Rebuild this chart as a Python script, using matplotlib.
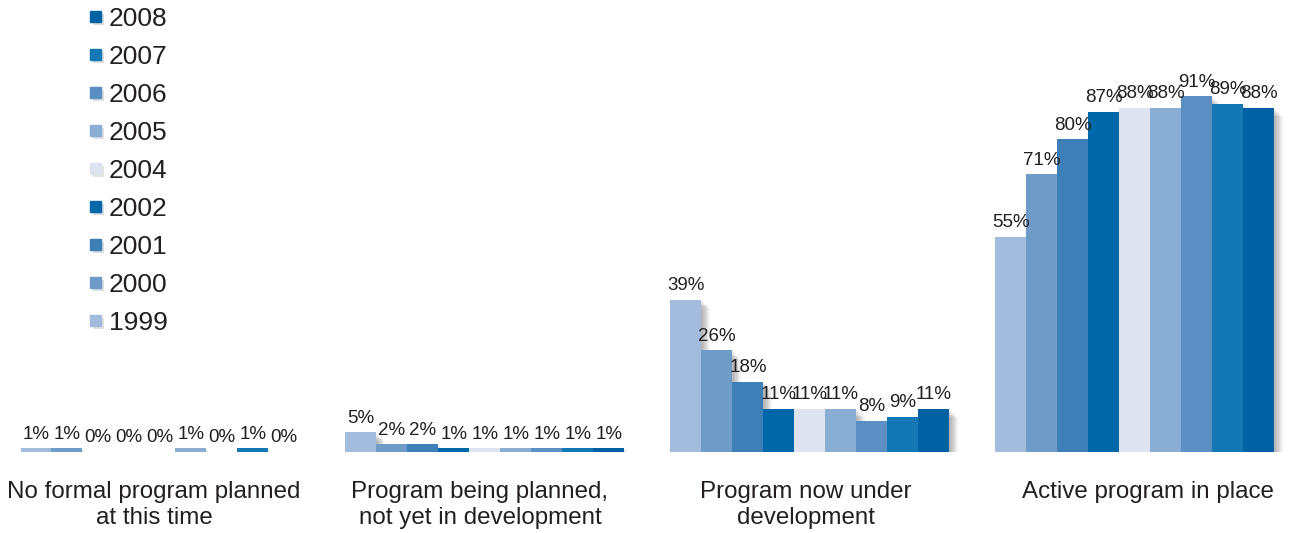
import matplotlib
matplotlib.use('Agg')
import matplotlib.pyplot as plt
from matplotlib import patheffects as pe
from matplotlib.lines import Line2D

plt.rcParams['font.family'] = ['Liberation Sans', 'DejaVu Sans']

categories = ['No formal program planned\nat this time',
              'Program being planned,\nnot yet in development',
              'Program now under\ndevelopment',
              'Active program in place']
years = ['1999', '2000', '2001', '2002', '2004', '2005', '2006', '2007', '2008']

v1999 = [1, 5, 39, 55]
v2000 = [1, 2, 26, 71]
v2001 = [0, 2, 18, 80]
v2002 = [0, 1, 11, 87]
v2004 = [0, 1, 11, 88]
v2005 = [1, 1, 11, 88]
v2006 = [0, 1, 8, 91]
v2007 = [1, 1, 9, 89]
v2008 = [0, 1, 11, 88]
values = [v1999, v2000, v2001, v2002, v2004, v2005, v2006, v2007, v2008]

colors = ['#a3bcdd', '#6f9bc8', '#3e7fb8', '#0068a8', '#dde4ef',
          '#8aadd4', '#5b8ec3', '#1478b4', '#0062a2']
TEXT = '#231f20'

# soft drop shadow built from a few stacked offsets
shadow = [pe.SimplePatchShadow(offset=(d, -d), shadow_rgbFace='#000000', alpha=0.05)
          for d in (1, 2, 3, 4, 5, 6)] + [pe.Normal()]

fig = plt.figure(figsize=(13.02, 5.33), dpi=100)
ax = fig.add_axes([0, 81 / 533, 1, 452 / 533])

w = 31 / 325
for i, (vals, c) in enumerate(zip(values, colors)):
    xs = [g + (i - 4) * w for g in range(len(categories))]
    bars = ax.bar(xs, vals, width=w, color=c, linewidth=0)
    for b in bars:
        b.set_path_effects(shadow)
    for x, v in zip(xs, vals):
        ax.annotate(f'{v}%', (x, v), xytext=(0, 4), textcoords='offset points',
                    ha='center', va='bottom', fontsize=13.5, color=TEXT)

ax.set_xlim(-160 / 325, (1302 - 160) / 325)
ax.set_ylim(0, 452 / 3.91)
# category captions sit slightly off the group centres
label_shift = [-6, -5, -4, 13]
ax.set_xticks([g + s / 325 for g, s in zip(range(len(categories)), label_shift)])
ax.set_xticklabels(categories, fontsize=17.4, color=TEXT)
ax.tick_params(axis='x', length=0, pad=21)
ax.set_yticks([])
for s in ax.spines.values():
    s.set_visible(False)

handles = [Line2D([], [], marker='s', ls='', color=c, markersize=8,
                  path_effects=[pe.SimplePatchShadow(offset=(2, -2), alpha=0.15), pe.Normal()])
           for c in colors]
fig.legend(handles[::-1], years[::-1], loc='upper left',
           bbox_to_anchor=(89 / 1302, 1 - 7 / 533), frameon=False, fontsize=19,
           labelcolor=TEXT, handlelength=0.5, handletextpad=0.25,
           labelspacing=0.53, borderpad=0, borderaxespad=0)

fig.savefig('out.png', dpi=100)
